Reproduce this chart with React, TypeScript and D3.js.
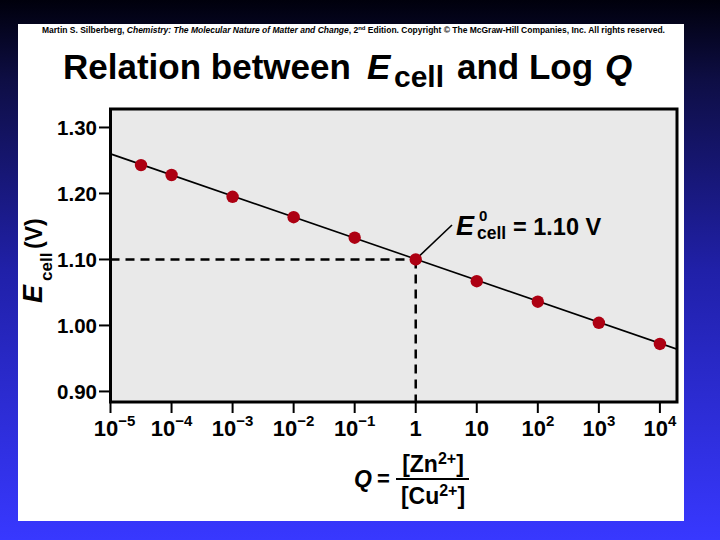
import React from 'react';
import * as d3 from 'd3';

// ---- data ----
const logQ = [-4.5, -4, -3, -2, -1, 0, 1, 2, 3, 4];
const eCell = [1.243, 1.228, 1.195, 1.164, 1.133, 1.1, 1.067, 1.036, 1.004, 0.972];
const fitLogQ = [-5, 4.28];
const fitE = [1.26, 0.964];
const xTicks = [-5, -4, -3, -2, -1, 0, 1, 2, 3, 4];
const xTickBase = ['10', '10', '10', '10', '10', '1', '10', '10', '10', '10'];
const xTickExp = ['−5', '−4', '−3', '−2', '−1', '', '', '2', '3', '4'];
const yTicks = [0.9, 1.0, 1.1, 1.2, 1.3];
const e0Value = 1.1;
const e0LogQ = 0;

const FONT = "'Liberation Sans', Arial, Helvetica, sans-serif";

export default function App() {
  const left = 110.5, right = 677, top = 109, bottom = 402;
  const x = d3.scaleLinear().domain([-5, 4.28]).range([left, right]);
  const y = d3.scaleLinear().domain([0.884, 1.328]).range([bottom, top]);

  const fit = fitLogQ.map((q, i) => [q, fitE[i]] as [number, number]);
  const linePath = d3.line<[number, number]>().x(d => x(d[0])).y(d => y(d[1]))(fit) || '';

  const px = x(e0LogQ), py = y(e0Value);

  return (
    <svg width={720} height={540} style={{ position: 'fixed', left: 0, top: 0 }} fontFamily={FONT}>
      <defs>
        <linearGradient id="bg" x1="0" y1="0" x2="0" y2="1">
          <stop offset="0" stopColor="#00000c" />
          <stop offset="0.15" stopColor="#0e0e45" />
          <stop offset="0.5" stopColor="#2020a8" />
          <stop offset="1" stopColor="#3838ff" />
        </linearGradient>
        <clipPath id="plotclip">
          <rect x={left} y={top} width={right - left} height={bottom - top} />
        </clipPath>
      </defs>
      <rect x={0} y={0} width={720} height={540} fill="url(#bg)" />
      <rect x={18} y={24} width={666} height={497} fill="#ffffff" />

      {/* copyright line */}
      <text x={42} y={33} fontSize={8.5} fontWeight="bold" fill="#000" textLength={623} lengthAdjust="spacingAndGlyphs">
        Martin S. Silberberg, <tspan fontStyle="italic">Chemistry: The Molecular Nature of Matter and Change</tspan>, 2
        <tspan fontSize={6} dy={-3}>nd</tspan>
        <tspan dy={3}> Edition.  Copyright © The McGraw-Hill Companies, Inc. All rights reserved.</tspan>
      </text>

      {/* title */}
      <text y={79} fontSize={35} fontWeight="bold" fill="#000">
        <tspan x={63}>Relation between</tspan>
        <tspan x={367} fontStyle="italic">E</tspan>
        <tspan x={394} dy={8} fontSize={30}>cell</tspan>
        <tspan x={457} dy={-8}>and Log</tspan>
        <tspan x={605} fontStyle="italic">Q</tspan>
      </text>

      {/* plot area */}
      <rect x={left} y={top} width={right - left} height={bottom - top} fill="#e9e9e9" />

      <g clipPath="url(#plotclip)">
        <path d={linePath} fill="none" stroke="#000" strokeWidth={1.6} />
        <line x1={left} x2={px} y1={py} y2={py} stroke="#000" strokeWidth={2.5} strokeDasharray="9 6" />
        <line x1={px} x2={px} y1={py} y2={bottom} stroke="#000" strokeWidth={2.5} strokeDasharray="9 6" />
        <line x1={px} y1={py} x2={452} y2={225} stroke="#000" strokeWidth={1.6} />
        {logQ.map((q, i) => (
          <circle key={i} cx={x(q)} cy={y(eCell[i])} r={6.2} fill="#ad0012" />
        ))}
      </g>

      <rect x={left} y={top} width={right - left} height={bottom - top} fill="none" stroke="#000" strokeWidth={3} />

      {/* y axis ticks */}
      {yTicks.map((t, i) => (
        <g key={i}>
          <line x1={99} x2={left} y1={y(t)} y2={y(t)} stroke="#000" strokeWidth={2} />
          <text x={97} y={y(t)} textAnchor="end" dominantBaseline="central" fontSize={20.5} fontWeight="bold">
            {t.toFixed(2)}
          </text>
        </g>
      ))}

      {/* x axis ticks */}
      {xTicks.map((t, i) => (
        <g key={i}>
          <line x1={x(t)} x2={x(t)} y1={bottom} y2={413} stroke="#000" strokeWidth={2} />
          <text x={x(t) + (i === 0 ? 4 : 0)} y={436} textAnchor="middle" fontSize={22} fontWeight="bold">
            {xTickBase[i]}
            {xTickExp[i] && <tspan fontSize={15} dy={-10}>{xTickExp[i]}</tspan>}
          </text>
        </g>
      ))}

      {/* y axis label */}
      <text transform="rotate(-90)" y={42} fontWeight="bold">
        <tspan x={-303} fontSize={27} fontStyle="italic">E</tspan>
        <tspan x={-281} dy={10} fontSize={17}>cell</tspan>
        <tspan x={-249} dy={-10} fontSize={23}>(V)</tspan>
      </text>

      {/* annotation */}
      <text fontWeight="bold" fill="#000">
        <tspan x={456} y={235} fontSize={27} fontStyle="italic">E</tspan>
        <tspan x={479} y={221} fontSize={15}>0</tspan>
        <tspan x={477} y={239} fontSize={17.5}>cell</tspan>
        <tspan x={513} y={235} fontSize={23.5}>= 1.10 V</tspan>
      </text>

      {/* x axis label */}
      <text x={354} y={487} fontSize={23} fontWeight="bold" fontStyle="italic">Q</text>
      <text x={377} y={486} fontSize={22} fontWeight="bold">=</text>
      <text x={433} y={472} fontSize={23} fontWeight="bold" textAnchor="middle">
        [Zn<tspan fontSize={16} dy={-8}>2+</tspan><tspan dy={8}>]</tspan>
      </text>
      <line x1={396} x2={469} y1={479} y2={479} stroke="#000" strokeWidth={2} />
      <text x={433} y={504} fontSize={23} fontWeight="bold" textAnchor="middle">
        [Cu<tspan fontSize={16} dy={-8}>2+</tspan><tspan dy={8}>]</tspan>
      </text>
    </svg>
  );
}
